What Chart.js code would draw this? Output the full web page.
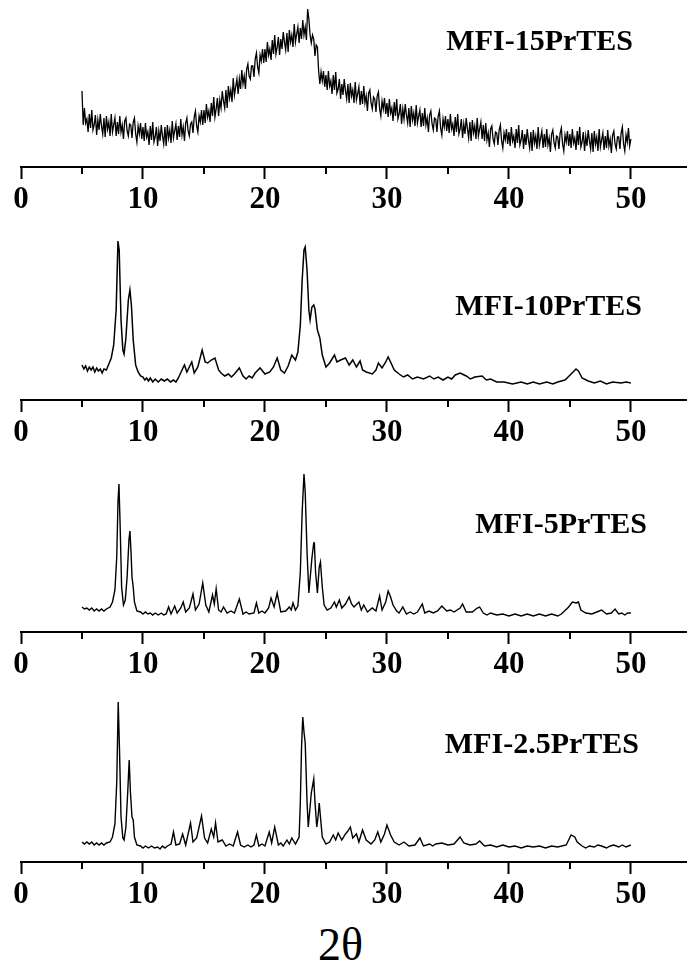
<!DOCTYPE html>
<html>
<head>
<meta charset="utf-8">
<script src="https://cdn.jsdelivr.net/npm/chart.js@4.4.0/dist/chart.umd.min.js"></script>
<style>
  html, body { margin: 0; padding: 0; background: #fff; }
  #page { position: relative; width: 687px; height: 972px; overflow: hidden; background: #fff; }
  #page canvas { position: absolute; left: 0; }
  .tag { position: absolute; font: bold 30px "Liberation Serif", "Times New Roman", serif; line-height: 30px; white-space: nowrap; color: #000; }
  #xlabel { position: absolute; font: 46px "Liberation Serif", "Times New Roman", serif; line-height: 46px; color: #000; white-space: nowrap; }
</style>
</head>
<body>
<div id="page">
  <canvas id="p1" width="687" height="219" style="top:0px"></canvas>
  <canvas id="p2" width="687" height="219" style="top:233px"></canvas>
  <canvas id="p3" width="687" height="219" style="top:465px"></canvas>
  <canvas id="p4" width="687" height="219" style="top:695px"></canvas>
  <div class="tag" style="right:54px; top:25px">MFI-15PrTES</div>
  <div class="tag" style="right:45px; top:290px">MFI-10PrTES</div>
  <div class="tag" style="right:40px; top:508px">MFI-5PrTES</div>
  <div class="tag" style="right:48px; top:728px">MFI-2.5PrTES</div>
  <div id="xlabel" style="left:318px; top:922px">2θ</div>
</div>
<script>
/* --------------- axis ticks --------------- */
var xTicks = [0, 10, 20, 30, 40, 50];
var minorTicks = [5, 15, 25, 35, 45];

/* --------------- MFI-15PrTES : intensity every 0.1 deg from 5.0 to 50.0 (one row per degree) --------------- */
var tes15Start = 5.0;
var tes15Step = 0.1;
var tes15 = [
  76,42,59,44,48,35,53,39,57,37,
  42,52,32,47,37,53,41,33,49,30,
  51,38,45,31,53,35,42,49,31,45,
  33,51,35,42,28,46,49,36,31,43,
  42,29,45,49,33,25,41,33,44,28,
  40,26,44,30,35,22,41,27,45,25,
  30,40,21,36,26,42,31,23,40,21,
  42,29,37,24,46,29,36,43,27,41,
  30,48,32,40,26,44,49,36,31,43,
  45,34,50,56,41,35,51,45,57,42,
  57,44,63,50,56,45,64,51,70,50,
  58,69,51,67,59,76,66,59,77,59,
  81,69,77,65,89,72,80,88,73,88,
  78,97,83,91,78,98,103,91,88,101,
  101,90,108,114,100,94,112,106,118,104,
  118,105,125,112,118,107,127,113,132,113,
  120,130,112,128,118,135,125,117,134,115,
  137,125,132,120,143,125,133,140,124,139,
  128,147,132,140,127,158,148,132,124,132,
  128,111,122,120,96,83,95,86,96,80,
  92,77,96,81,86,73,92,77,95,74,
  78,88,68,83,72,88,76,68,83,64,
  84,71,77,64,85,67,73,80,62,76,
  63,81,64,71,56,74,77,64,58,70,
  68,55,71,75,58,51,66,58,69,53,
  64,50,68,54,59,46,65,51,68,48,
  53,63,43,58,48,63,52,44,59,40,
  61,47,54,41,62,44,51,57,40,54,
  41,59,42,49,35,52,56,43,37,49,
  48,35,51,56,39,32,48,40,51,36,
  48,34,53,38,43,31,50,35,53,33,
  38,48,29,43,33,49,38,29,45,26,
  47,34,41,28,49,31,38,45,28,42,
  26,44,27,34,20,38,41,28,23,35,
  34,22,37,42,26,19,34,27,38,23,
  35,21,40,26,31,19,38,24,42,22,
  27,37,18,33,22,38,27,19,35,16,
  37,24,31,18,40,22,29,36,19,33,
  20,38,22,29,15,33,37,24,19,31,
  30,18,34,39,23,16,32,25,36,21,
  33,19,38,24,29,17,36,22,40,20,
  25,35,16,31,21,37,26,18,34,15,
  36,23,30,16,38,20,27,34,17,31,
  19,37,21,28,14,32,36,23,18,30,
  30,18,34,40,23,16,32,25,39,21,
  28
];

/* --------------- MFI-10PrTES : [2theta, intensity] --------------- */
var tes10 = [
  [5.0,35],[5.15,31],[5.3,34],[5.45,29],[5.6,33],[5.75,30],[5.9,33],[6.05,28],[6.2,32],[6.35,29],[6.5,31],[6.65,27],[6.8,31],[7.0,30],[7.2,36],[7.4,42],
  [7.6,55],[7.8,90],[7.95,159],[8.05,150],[8.2,80],[8.35,50],[8.45,46],[8.6,62],[8.8,100],[8.93,110],
  [9.05,95],[9.2,60],[9.4,35],[9.6,28],[9.8,24],[10.0,23],[10.15,20],[10.3,22],[10.45,19],[10.6,22],[10.8,18],[11.0,21],[11.25,18],[11.5,21],[11.75,19],
  [12.0,21],[12.25,18],[12.5,20],[12.7,18],[12.9,22],[13.2,30],[13.4,35],[13.6,28],[14.0,38],[14.2,27],[14.5,33],[14.85,50],
  [15.1,38],[15.3,37],[15.6,40],[15.9,42],[16.2,30],[16.4,27],[16.7,24],[17.0,26],[17.25,23],[17.5,26],[17.9,32],[18.2,24],
  [18.45,21],[18.7,24],[18.95,22],[19.2,27],[19.6,32],[20.0,26],[20.4,28],[20.7,33],[21.0,42],[21.3,30],[21.6,27],[21.9,34],
  [22.2,45],[22.5,40],[22.7,48],[22.9,75],[23.05,120],[23.2,150],[23.3,153],[23.45,130],[23.6,90],[23.7,80],
  [23.85,93],[24.0,95],[24.1,91],[24.3,70],[24.5,62],[24.7,45],[25.0,33],[25.3,37],[25.7,45],[25.9,38],
  [26.2,40],[26.6,42],[26.9,35],[27.2,40],[27.5,33],[27.8,39],[28.0,30],[28.3,28],[28.8,26],[29.1,30],
  [29.3,37],[29.6,32],[29.9,38],[30.1,43],[30.3,38],[30.6,30],[31.0,26],[31.35,23],[31.7,25],[32.1,21],[32.5,23],[33.0,21],[33.5,24],
  [33.85,21],[34.2,23],[34.6,20],[35.0,23],[35.3,21],[35.6,25],[36.0,27],[36.5,24],[36.85,21],[37.2,23],[37.8,24],[38.15,20],[38.5,21],[39.0,18],[39.6,18],[40.3,16],[41.0,18],
  [41.5,16],[42.0,18],[42.5,16],[43.1,18],[43.6,16],[44.0,18],[44.6,20],[45.1,26],[45.5,31],[45.7,29],[46.0,22],[46.5,19],[47.0,17],[47.5,19],
  [48.0,16],[48.5,18],[49.2,17],[49.6,18],[50.0,17]
];

/* --------------- MFI-5PrTES --------------- */
var tes5 = [
  [5.0,25],[5.2,23],[5.4,24],[5.6,22],[5.8,24],[6.0,21],[6.2,23],[6.4,21],[6.6,23],[6.8,21],[7.0,23],[7.3,25],[7.5,30],[7.7,42],[7.85,75],
  [7.95,130],[8.03,148],[8.12,110],[8.25,45],[8.4,27],[8.55,32],[8.7,55],[8.85,92],[8.93,101],[9.02,80],
  [9.1,55],[9.2,45],[9.3,30],[9.5,21],[9.8,20],[10.0,18],[10.2,20],[10.4,18],[10.6,19],[10.8,17],[11.0,19],[11.25,17],[11.5,19],[11.7,17],[11.9,18],
  [12.1,25],[12.3,18],[12.6,26],[12.8,19],[13.1,24],[13.3,30],[13.5,20],[13.8,24],[14.1,38],[14.3,22],
  [14.6,28],[14.9,49],[15.15,27],[15.4,20],[15.7,37],[15.85,28],[16.0,43],[16.2,22],[16.4,20],[16.6,25],
  [16.9,19],[17.2,21],[17.5,19],[17.9,33],[18.2,18],[18.45,20],[18.7,18],[19.1,19],[19.3,29],[19.5,19],[19.75,21],[20.0,19],[20.3,24],
  [20.5,34],[20.75,25],[21.0,39],[21.3,20],[21.7,21],[22.0,25],[22.15,22],[22.3,29],[22.5,22],[22.7,26],
  [22.9,60],[23.05,120],[23.2,158],[23.3,140],[23.45,80],[23.6,39],[23.75,60],[23.85,74],[24.0,89],[24.05,89],
  [24.15,60],[24.3,39],[24.45,65],[24.55,70],[24.7,45],[24.85,27],[25.1,22],[25.4,24],[25.7,30],[25.85,25],
  [26.1,32],[26.3,24],[26.6,28],[26.9,35],[27.1,28],[27.3,25],[27.7,30],[27.9,22],[28.1,27],[28.4,20],
  [28.8,24],[29.1,21],[29.4,36],[29.6,22],[29.9,30],[30.1,41],[30.3,35],[30.5,27],[30.8,21],[31.0,19],
  [31.3,25],[31.6,18],[31.9,20],[32.2,18],[32.5,20],[32.9,28],[33.1,19],[33.45,21],[33.8,19],[34.15,21],[34.5,26],[34.9,21],[35.2,22],[35.5,20],[36.0,24],
  [36.2,28],[36.5,20],[37.0,20],[37.4,24],[37.6,25],[37.9,19],[38.2,17],[38.5,19],[39.0,17],[39.5,18],[40.0,16],[40.5,18],[41.0,16],[41.5,18],
  [42.0,16],[42.5,18],[43.0,16],[43.5,18],[44.0,16],[44.3,18],[44.9,25],[45.2,30],[45.5,29],[45.7,30],[45.9,22],[46.3,19],[46.8,18],
  [47.2,20],[47.6,22],[48.0,18],[48.4,19],[48.7,23],[49.0,18],[49.25,19],[49.5,17],[49.75,19],[50.0,19]
];

/* --------------- MFI-2.5PrTES --------------- */
var tes2p5 = [
  [5.0,20],[5.2,18],[5.4,20],[5.6,18],[5.8,20],[6.0,17],[6.2,19],[6.4,17],[6.6,19],[6.8,17],[7.0,19],[7.3,20],[7.5,25],[7.7,38],[7.85,80],
  [7.97,160],[8.08,110],[8.2,45],[8.35,24],[8.45,22],[8.6,35],[8.75,70],[8.87,102],[8.97,70],[9.1,45],
  [9.2,42],[9.3,25],[9.5,17],[9.8,16],[10.0,14],[10.2,16],[10.45,14],[10.7,16],[10.95,14],[11.2,15],[11.4,13],[11.6,16],[11.8,14],[12.0,16],[12.3,18],
  [12.5,30],[12.7,17],[13.0,18],[13.25,28],[13.5,17],[13.9,39],[14.1,20],[14.4,24],[14.8,46],[15.05,24],
  [15.3,19],[15.6,33],[15.8,25],[15.95,39],[16.15,20],[16.5,22],[16.8,16],[17.1,18],[17.4,16],[17.75,30],[18.0,17],
  [18.3,15],[18.6,17],[18.85,15],[19.1,17],[19.3,27],[19.5,16],[19.75,18],[20.0,16],[20.35,30],[20.55,19],[20.8,35],[21.1,17],[21.3,19],[21.5,16],
  [21.8,22],[22.0,18],[22.2,24],[22.5,18],[22.8,25],[22.9,60],[23.0,115],[23.1,145],[23.2,130],[23.3,119],
  [23.45,60],[23.55,35],[23.7,55],[23.8,69],[24.0,83],[24.1,60],[24.25,35],[24.35,45],[24.45,59],[24.55,45],
  [24.7,25],[25.0,18],[25.3,20],[25.6,27],[25.8,22],[26.0,29],[26.3,22],[26.6,28],[26.8,31],[27.0,35],
  [27.2,24],[27.5,28],[27.7,20],[28.0,32],[28.3,22],[28.7,18],[29.0,22],[29.25,30],[29.5,20],[29.8,28],
  [30.0,37],[30.3,27],[30.6,20],[31.0,17],[31.4,20],[31.8,16],[32.3,17],[32.7,24],[33.0,16],[33.5,18],
  [33.75,16],[34.0,18],[34.5,19],[35.0,17],[35.5,18],[36.0,25],[36.3,19],[36.8,17],[37.3,18],[37.6,21],[38.0,16],[38.5,17],
  [39.0,15],[39.5,17],[40.0,15],[40.5,16],[41.0,14],[41.5,16],[42.0,15],[42.5,16],[43.0,14],[43.5,16],[44.0,15],[44.7,17],[45.1,27],[45.4,25],[45.6,20],
  [46.0,16],[46.3,14],[46.6,16],[47.0,15],[47.3,17],[47.6,16],[48.0,14],[48.3,16],[48.6,17],[49.0,15],[49.3,17],[49.6,15],[50.0,17]
];

/* --------------- short minor ticks at 5, 15, ... --------------- */
var minorTickPlugin = {
  id: "minorTicks",
  afterDraw: function (chart) {
    var sc = chart.scales.x;
    var ctx = chart.ctx;
    ctx.save();
    ctx.strokeStyle = "#000";
    ctx.lineWidth = 2;
    minorTicks.forEach(function (v) {
      var px = Math.round(sc.getPixelForValue(v));
      ctx.beginPath();
      ctx.moveTo(px, sc.top);
      ctx.lineTo(px, sc.top + 7);
      ctx.stroke();
    });
    ctx.restore();
  }
};

function toPoints(arr) {
  return arr.map(function (p) { return { x: p[0], y: p[1] }; });
}

function makePanel(id, points, lw) {
  return new Chart(document.getElementById(id), {
    type: "line",
    plugins: [minorTickPlugin],
    data: {
      datasets: [{
        data: points,
        borderColor: "#000",
        borderWidth: lw,
        pointRadius: 0,
        tension: 0,
        fill: false
      }]
    },
    options: {
      responsive: false,
      animation: false,
      devicePixelRatio: 1,
      layout: { padding: { left: 21, right: 0, top: 0, bottom: 0 } },
      plugins: { legend: { display: false }, tooltip: { enabled: false } },
      scales: {
        x: {
          type: "linear",
          min: 0,
          max: 54.6,
          afterFit: function (s) { s.height = 52; },
          afterBuildTicks: function (s) { s.ticks = xTicks.map(function (v) { return { value: v }; }); },
          ticks: {
            includeBounds: false,
            autoSkip: false,
            maxRotation: 0,
            padding: 2,
            color: "#000",
            font: { family: "'Liberation Serif', 'Times New Roman', serif", size: 31, weight: "bold" }
          },
          grid: { drawOnChartArea: false, drawTicks: true, tickLength: 12, tickWidth: 2, tickColor: "#000" },
          border: { display: true, color: "#000", width: 2 }
        },
        y: { display: false, min: 0, max: 167 }
      }
    }
  });
}

var p15 = tes15.map(function (v, i) { return { x: +(tes15Start + i * tes15Step).toFixed(1), y: v }; });

makePanel("p1", p15, 1.3);
makePanel("p2", toPoints(tes10), 1.5);
makePanel("p3", toPoints(tes5), 1.4);
makePanel("p4", toPoints(tes2p5), 1.4);
</script>
</body>
</html>
